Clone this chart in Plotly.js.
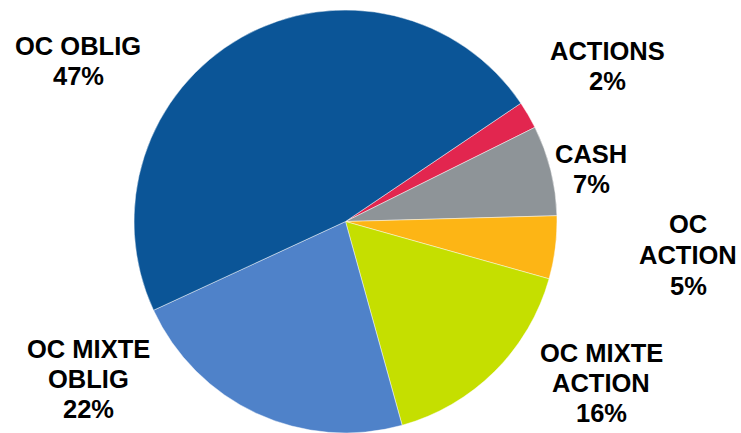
<!DOCTYPE html>
<html>
<head>
<meta charset="utf-8">
<script src="https://cdn.plot.ly/plotly-3.0.1.min.js"></script>
<style>html,body{margin:0;padding:0;background:#fff;}#chart{width:741px;height:433px;}</style>
</head>
<body>
<div id="chart"></div>
<script>
// Data (clockwise, starting at the ACTIONS slice)
const categories = ["ACTIONS", "CASH", "OC ACTION", "OC MIXTE ACTION", "OC MIXTE OBLIG", "OC OBLIG"];
const values = [2.1, 6.9, 4.8, 16.3, 22.4, 47.4];
const percentLabels = ["2%", "7%", "5%", "16%", "22%", "47%"];
// Label lines as shown on the chart
const labelLines = [
  ["ACTIONS", "2%"],
  ["CASH", "7%"],
  ["OC", "ACTION", "5%"],
  ["OC MIXTE", "ACTION", "16%"],
  ["OC MIXTE", "OBLIG", "22%"],
  ["OC OBLIG", "47%"]
];
const colors = ["#E2264F", "#8E9498", "#FDB515", "#C5DF00", "#4F82C9", "#0B5597"];

// Layout: label anchor positions (pixel centre x, first baseline y, line step)
const W = 741, H = 433;
const labelPos = [
  [607, 60, 30],
  [591, 163, 30],
  [688, 233, 31],
  [601, 362, 30],
  [88, 358, 30],
  [78, 55, 30]
];
const fontSize = 25.5;
const annotations = [];
labelLines.forEach((lines, i) => {
  const [cx, by, step] = labelPos[i];
  lines.forEach((t, j) => {
    const baseline = by + j * step;
    annotations.push({
      xref: "paper", yref: "paper",
      x: cx / W, y: 1 - (baseline - 9) / H,
      xanchor: "center", yanchor: "middle",
      text: "<b>" + t + "</b>",
      showarrow: false,
      font: {family: "Liberation Sans, Arial, sans-serif", size: fontSize, color: "#000"}
    });
  });
});

const cx = 345.5, cy = 222, r = 212;
const trace = {
  type: "pie",
  labels: categories,
  values: values,
  sort: false,
  direction: "clockwise",
  rotation: 56,
  textinfo: "none",
  hoverinfo: "label+percent",
  marker: {colors: colors, line: {color: "rgba(255,255,255,0.45)", width: 1}},
  domain: {x: [(cx - r) / W, (cx + r) / W], y: [1 - (cy + r) / H, 1 - (cy - r) / H]},
  showlegend: false
};

Plotly.newPlot("chart", [trace], {
  width: W, height: H,
  margin: {l: 0, r: 0, t: 0, b: 0},
  paper_bgcolor: "#fff",
  showlegend: false,
  annotations: annotations
}, {displayModeBar: false, staticPlot: true});
</script>
</body>
</html>
